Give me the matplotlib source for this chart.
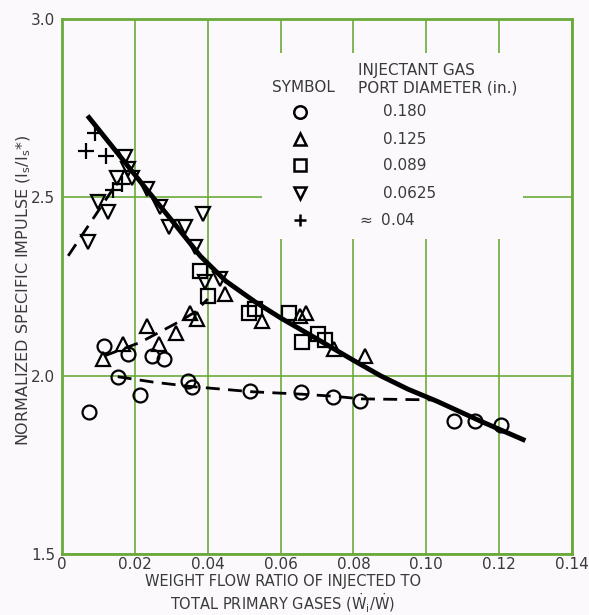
import numpy as np
import matplotlib
matplotlib.use('Agg')
import matplotlib.pyplot as plt
from matplotlib.patches import Rectangle

# Datos
circ_x = [0.0074, 0.0114, 0.0153, 0.0182, 0.0214, 0.0248, 0.0280, 0.0347, 0.0356,
          0.0516, 0.0657, 0.0745, 0.0819, 0.1075, 0.1135, 0.1205]
circ_y = [1.897, 2.084, 1.997, 2.061, 1.947, 2.056, 2.047, 1.986, 1.967,
          1.956, 1.953, 1.941, 1.928, 1.874, 1.872, 1.863]

tri_x = [0.0113, 0.0168, 0.0234, 0.0266, 0.0312, 0.0352, 0.0370, 0.0448,
         0.0549, 0.0652, 0.0670, 0.0748, 0.0832]
tri_y = [2.047, 2.089, 2.138, 2.089, 2.121, 2.177, 2.159, 2.229,
         2.154, 2.166, 2.177, 2.075, 2.056]

sq_x = [0.0379, 0.0402, 0.0512, 0.0530, 0.0622, 0.0659, 0.0704, 0.0723]
sq_y = [2.294, 2.224, 2.177, 2.187, 2.177, 2.093, 2.117, 2.100]

dtri_x = [0.0072, 0.0100, 0.0127, 0.0150, 0.0173, 0.0182, 0.0191, 0.0233,
          0.0269, 0.0295, 0.0338, 0.0365, 0.0388, 0.0393, 0.0434]
dtri_y = [2.374, 2.486, 2.458, 2.555, 2.612, 2.579, 2.555, 2.523,
          2.472, 2.416, 2.416, 2.362, 2.453, 2.262, 2.271]

plus_x = [0.0066, 0.0090, 0.0120, 0.0140, 0.0166]
plus_y = [2.630, 2.680, 2.616, 2.521, 2.537]

# Curvas
solid_x = [0.0070, 0.0150, 0.0230, 0.0300, 0.0380, 0.0450, 0.0530, 0.0600,
           0.0700, 0.0800, 0.0874, 0.0950, 0.1030, 0.1150, 0.1272]
solid_y = [2.729, 2.627, 2.525, 2.437, 2.335, 2.265, 2.207, 2.162,
           2.103, 2.043, 2.000, 1.962, 1.928, 1.872, 1.818]

circ_line_x = [0.0153, 0.0250, 0.0350, 0.0520, 0.0660, 0.0750, 0.0820, 0.1020]
circ_line_y = [1.997, 1.982, 1.970, 1.955, 1.948, 1.942, 1.935, 1.932]

tri_line_x = [0.0115, 0.0214, 0.0310, 0.0365, 0.0400]
tri_line_y = [2.055, 2.093, 2.145, 2.178, 2.215]

dtri_line_x = [0.0017, 0.0154]
dtri_line_y = [2.336, 2.545]

legend_labels = ['0.180', '0.125', '0.089', '0.0625', r'$\approx$ 0.04']
legend_markers = ['o', '^', 's', 'v', '+']

green = '#6aaa3a'
txt = '#3a3a3a'
bg = '#fbf9fc'

plt.rcParams['font.family'] = ['DejaVu Sans']
plt.rcParams['mathtext.default'] = 'regular'

fig = plt.figure(figsize=(5.89, 6.15), dpi=100, facecolor=bg)
ax = fig.add_axes([62/589, 1-554/615, 510/589, 535/615], facecolor=bg)

ax.set_xlim(0, 0.14)
ax.set_ylim(1.5, 3.0)
ax.set_xticks(np.arange(0, 0.141, 0.02))
ax.set_xticklabels(['0', '0.02', '0.04', '0.06', '0.08', '0.10', '0.12', '0.14'])
ax.set_yticks([1.5, 2.0, 2.5, 3.0])
ax.set_yticklabels(['1.5', '2.0', '2.5', '3.0'])
ax.tick_params(length=0, labelsize=11, labelcolor=txt)
ax.tick_params(axis='x', pad=2)
ax.tick_params(axis='y', pad=5)
ax.grid(True, color=green, lw=1.2)
ax.set_axisbelow(True)
for s in ax.spines.values():
    s.set_color(green)
    s.set_linewidth(2)

# zona blanca detrás de la leyenda (corta la cuadrícula)
ax.add_patch(Rectangle(((262-62)/510, (554-239)/535), (523-262)/510, (239-53)/535,
                       transform=ax.transAxes, facecolor=bg, edgecolor='none', zorder=1))

ax.plot(solid_x, solid_y, color='black', lw=3.5, solid_capstyle='butt', zorder=3)
dash = dict(color='black', lw=2, dashes=(5, 3), zorder=3)
ax.plot(circ_line_x, circ_line_y, **dash)
ax.plot(tri_line_x, tri_line_y, **dash)
ax.plot(dtri_line_x, dtri_line_y, **dash)

mk = dict(ls='none', mfc='none', mec='black', mew=1.6, zorder=4)
ax.plot(circ_x, circ_y, marker='o', ms=10, **mk)
ax.plot(tri_x, tri_y, marker='^', ms=10.5, **mk)
ax.plot(sq_x, sq_y, marker='s', ms=10, **mk)
ax.plot(dtri_x, dtri_y, marker='v', ms=10.5, **mk)
ax.plot(plus_x, plus_y, marker='+', ms=11, **mk)

# leyenda dibujada a mano
def fx(px):
    return (px - 62) / 510

def fy(py):
    return (554 - py) / 535

ax.text(fx(272), fy(88), 'SYMBOL', transform=ax.transAxes, fontsize=11,
        color=txt, va='center', ha='left')
ax.text(fx(358), fy(70), 'INJECTANT GAS', transform=ax.transAxes, fontsize=11,
        color=txt, va='center', ha='left')
ax.text(fx(358), fy(88), 'PORT DIAMETER (in.)', transform=ax.transAxes, fontsize=11,
        color=txt, va='center', ha='left')
leg_y = [112, 139, 165, 193, 220]
for m, lab, py in zip(legend_markers, legend_labels, leg_y):
    ax.plot([fx(300)], [fy(py)], marker=m, ms=9, transform=ax.transAxes, clip_on=False,
            ls='none', mfc='none', mec='black', mew=1.8, zorder=5)
    xl = 357 if lab.startswith('$') else 383
    ax.text(fx(xl), fy(py), lab, transform=ax.transAxes, fontsize=11, color=txt,
            va='center', ha='left')

ax.set_xlabel('WEIGHT FLOW RATIO OF INJECTED TO\nTOTAL PRIMARY GASES ($\\dot{W}_i/\\dot{W}$)',
              fontsize=10.5, color=txt, linespacing=1.15)
ax.xaxis.set_label_coords(fx(283), fy(574), transform=ax.transAxes)
ax.set_ylabel('NORMALIZED SPECIFIC IMPULSE (I$_s$/I$_s$*)', fontsize=11.5, color=txt)
ax.yaxis.set_label_coords(fx(33), fy(290), transform=ax.transAxes)

fig.savefig('out.png', dpi=100, facecolor=bg)
